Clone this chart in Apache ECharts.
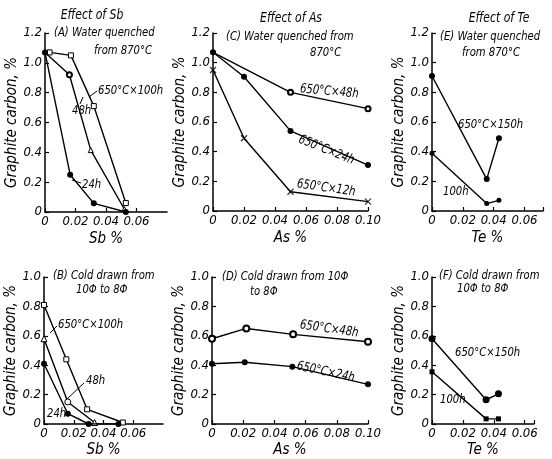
<!DOCTYPE html>
<html><head><meta charset="utf-8">
<script src="https://cdn.jsdelivr.net/npm/echarts@6/dist/echarts.min.js"></script>
<style>html,body{margin:0;padding:0;background:#fff}#c{width:552px;height:459px}</style>
</head><body><div id="c"></div>
<script>
// ---- Data (x = element %, y = graphite carbon %) ----
// (A) Sb, water quenched from 870°C
const sbWQ_100h = [[0.003,1.07],[0.017,1.05],[0.032,0.71],[0.053,0.06]];
const sbWQ_48h  = [[0,1.07],[0.016,0.92],[0.030,0.415],[0.052,0.02]];
const sbWQ_24h  = [[0,1.07],[0.0165,0.25],[0.032,0.058],[0.053,0.0]];
// (C) As, water quenched from 870°C
const asWQ_48h = [[0,1.07],[0.05,0.80],[0.10,0.69]];
const asWQ_24h = [[0,1.07],[0.02,0.905],[0.05,0.54],[0.10,0.31]];
const asWQ_12h = [[0,0.95],[0.02,0.49],[0.05,0.13],[0.10,0.063]];
// (E) Te, water quenched from 870°C
const teWQ_150h = [[0,0.91],[0.0355,0.215],[0.0434,0.49]];
const teWQ_100h = [[0,0.39],[0.0355,0.05],[0.0434,0.072]];
// (B) Sb, cold drawn 10Φ to 8Φ
const sbCD_100h = [[0,0.81],[0.015,0.44],[0.029,0.10],[0.053,0.01]];
const sbCD_48h  = [[0,0.58],[0.016,0.15],[0.034,0.01]];
const sbCD_24h  = [[0,0.41],[0.016,0.07],[0.030,0.0],[0.050,0.0]];
// (D) As, cold drawn
const asCD_48h = [[0,0.58],[0.022,0.65],[0.052,0.61],[0.10,0.56]];
const asCD_24h = [[0,0.41],[0.021,0.42],[0.0515,0.39],[0.10,0.27]];
// (F) Te, cold drawn
const teCD_150h = [[0,0.58],[0.035,0.165],[0.043,0.205]];
const teCD_100h = [[0,0.355],[0.035,0.035],[0.043,0.035]];

const xMaxes = [0.08, 0.10, 0.072, 0.08, 0.10, 0.066];
const yMaxes = [1.2, 1.2, 1.2, 1.0, 1.0, 1.0];
const xNames = ['Sb %','As %','Te %','Sb %','As %','Te %'];
const yName = 'Graphite carbon, %';

const FONT = "'Liberation Sans Narrow','DejaVu Sans Condensed','Liberation Sans',sans-serif";
const grids = [
  {left:45, top:33, width:122, height:179},
  {left:213, top:33, width:155, height:178},
  {left:432, top:33, width:111, height:178},
  {left:44, top:277, width:119, height:148},
  {left:212, top:277, width:156, height:148},
  {left:432, top:277, width:102, height:148}
];
const lbl = {color:'#000', fontStyle:'italic', fontFamily:FONT, fontSize:13};
const xAxes = grids.map((g,i)=>({
  type:'value', gridIndex:i, min:0, max:xMaxes[i], interval:0.02,
  name:xNames[i], nameLocation:'middle', nameGap:i<3?20:19,
  nameTextStyle:{color:'#000', fontStyle:'italic', fontFamily:FONT, fontSize:15},
  axisLine:{lineStyle:{color:'#000', width:1.5}},
  axisTick:{inside:true, length:4, lineStyle:{color:'#000', width:1.2}},
  splitLine:{show:false},
  axisLabel:Object.assign({margin:3, showMaxLabel:!(i===0||i===3), formatter:v=>{
    const k=Math.round(v/0.02); if (Math.abs(v-k*0.02)>1e-6) return '';
    return v===0?'0':v.toFixed(2);}}, lbl)
}));
const yAxes = grids.map((g,i)=>({
  type:'value', gridIndex:i, min:0, max:yMaxes[i], interval:0.2,
  name:yName, nameLocation:'middle', nameGap:24,
  nameTextStyle:{color:'#000', fontStyle:'italic', fontFamily:FONT, fontSize:15},
  axisLine:{lineStyle:{color:'#000', width:1.5}},
  axisTick:{inside:true, length:4, lineStyle:{color:'#000', width:1.2}},
  splitLine:{show:false},
  axisLabel:Object.assign({margin:3, formatter:v=>v===0?'0':v.toFixed(1)}, lbl)
}));

const BLACK = {color:'#000'};
const HOLLOW = {color:'#fff', borderColor:'#000', borderWidth:1};
// overrides: map of point index -> symbol name (used for mixed-marker curves)
function ser(data, idx, symbol, hollow, size, firstFilled, overrides){
  return {
    type:'line', xAxisIndex:idx, yAxisIndex:idx,
    data:data.map((p,j)=> {
      if (firstFilled && j===0) return {value:p, symbol:'circle', itemStyle:BLACK};
      if (overrides && overrides[j]) return {value:p, symbol:overrides[j], itemStyle:HOLLOW};
      return p;
    }),
    symbol:symbol, symbolSize:size||5, showSymbol:true,
    lineStyle:{color:'#000', width:1.4},
    itemStyle: hollow?HOLLOW:BLACK,
    z: hollow?3:4, animation:false, silent:true
  };
}
const series = [
  ser(sbWQ_100h,0,'rect',true,5),
  ser(sbWQ_48h,0,'emptyCircle',false,5,true,{2:'triangle',3:'triangle'}),
  ser(sbWQ_24h,0,'circle',false,6),
  ser(asWQ_48h,1,'emptyCircle',false,5,true),
  ser(asWQ_24h,1,'circle',false,6),
  ser(asWQ_12h,1,'none',false,6),
  ser(teWQ_150h,2,'circle',false,6),
  ser(teWQ_100h,2,'circle',false,5),
  ser(sbCD_100h,3,'rect',true,5),
  ser(sbCD_48h,3,'triangle',true,6,false,{1:'circle'}),
  ser(sbCD_24h,3,'circle',false,6),
  ser(asCD_48h,4,'emptyCircle',false,6),
  ser(asCD_24h,4,'circle',false,6),
  ser(teCD_150h,5,'circle',false,7),
  ser(teCD_100h,5,'rect',false,5)
];
// crosses for 12h series (As, water quenched)
series.push({type:'scatter', xAxisIndex:1, yAxisIndex:1, data:asWQ_12h,
  symbol:'path://M0,0L1,1M1,0L0,1', symbolSize:6,
  itemStyle:{color:'none', borderColor:'#000', borderWidth:1.3}, animation:false, silent:true, z:5});

function T(x,y,text,size,rot,align){
  return {type:'text', x:x, y:y, rotation:(rot||0)*Math.PI/180, scaleX:0.86,
    style:{text:text, fill:'#000', font:'italic '+(size||13)+'px '+FONT,
    textAlign:align||'left', textVerticalAlign:'middle'}};
}
function L(pts){ return {type:'polyline', shape:{points:pts}, style:{stroke:'#000', lineWidth:1, fill:null}}; }

const graphics = [
  T(92,15,'Effect of Sb',14,0,'center'),
  T(291,18,'Effect of As',14,0,'center'),
  T(499,18,'Effect of Te',14,0,'center'),
  T(54,33,'(A) Water quenched',13),
  T(94,51,'from 870°C',13),
  T(226,37,'(C) Water quenched from',13),
  T(310,53,'870°C',13),
  T(440,37,'(E) Water quenched',13),
  T(462,53,'from 870°C',13),
  T(53,276,'(B) Cold drawn from',13),
  T(76,290,'10Φ to 8Φ',13),
  T(222,277,'(D) Cold drawn from 10Φ',13),
  T(250,292,'to 8Φ',13),
  T(439,276,'(F) Cold drawn from',13),
  T(457,289,'10Φ to 8Φ',13),
  // series labels
  T(98,91,'650°C×100h',13), L([[97,91],[89,97]]),
  T(72,111,'48h',13), L([[80,104],[83,97]]),
  T(82,185,'24h',13), L([[81,183],[72,180]]),
  T(300,89,'650°C×48h',13,-5),
  T(299,139,'650°C×24h',13,-22),
  T(297,184,'650°C×12h',13,-8),
  T(458,125,'650°C×150h',13),
  T(443,192,'100h',13),
  T(58,325,'650°C×100h',13), L([[57,326],[50,333]]),
  T(86,381,'48h',13), L([[84,383],[66,400]]),
  T(47,414,'24h',13),
  T(300,325,'650°C×48h',13,-8),
  T(297,366,'650°C×24h',13,-12),
  T(455,353,'650°C×150h',13),
  T(440,400,'100h',13)
];

const chart = echarts.init(document.getElementById('c'), null, {renderer:'canvas'});
chart.setOption({
  animation:false,
  backgroundColor:'#fff',
  grid:grids, xAxis:xAxes, yAxis:yAxes, series:series, graphic:graphics
});
</script></body></html>
